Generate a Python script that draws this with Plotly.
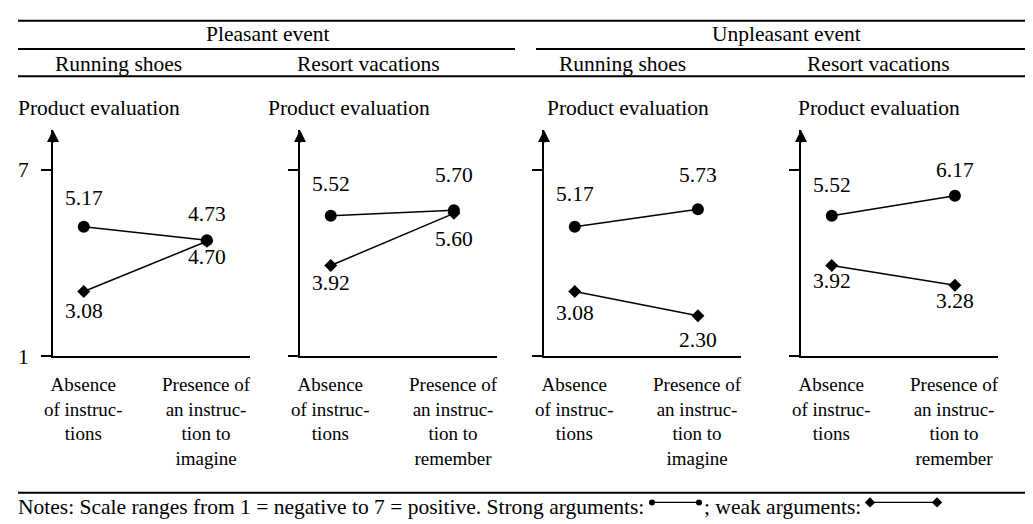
import plotly.graph_objects as go

# ---------------- data ----------------
events = ["Pleasant event", "Unpleasant event"]
products = ["Running shoes", "Resort vacations", "Running shoes", "Resort vacations"]
conditions = [
    ["Absence of instructions", "Presence of an instruction to imagine"],
    ["Absence of instructions", "Presence of an instruction to remember"],
    ["Absence of instructions", "Presence of an instruction to imagine"],
    ["Absence of instructions", "Presence of an instruction to remember"],
]
condition_labels = [
    ["Absence<br>of instruc-<br>tions", "Presence of<br>an instruc-<br>tion to<br>imagine"],
    ["Absence<br>of instruc-<br>tions", "Presence of<br>an instruc-<br>tion to<br>remember"],
    ["Absence<br>of instruc-<br>tions", "Presence of<br>an instruc-<br>tion to<br>imagine"],
    ["Absence<br>of instruc-<br>tions", "Presence of<br>an instruc-<br>tion to<br>remember"],
]
strong_args = [[5.17, 4.73], [5.52, 5.70], [5.17, 5.73], [5.52, 6.17]]
weak_args = [[3.08, 4.70], [3.92, 5.60], [3.08, 2.30], [3.92, 3.28]]
y_ticks = [1, 7]
y_axis_title = "Product evaluation"
notes_text = "Notes: Scale ranges from 1 = negative to 7 = positive. Strong arguments:"
notes_text2 = "; weak arguments:"

# ---------------- layout constants (pixels) ----------------
W, H = 1033, 524
FONT = "Liberation Serif"
FS = 21.5
CAT_FS = 19
axis_x_px = [45, 292, 536, 793]
axis_len_px = 197
y_bottom_px, y_top_px = 357, 125
px_per_unit = (357 - 166) / 6.0
y_max = 1 + (y_bottom_px - y_top_px) / px_per_unit
title_x_px = [8, 258, 537, 788]
product_cx_px = [110, 360, 614, 870]
event_cx_px = [260, 778]
strong_dy = [[29, 26], [32, 35], [33, 34], [31, 26]]
weak_dy = [[-19, -16], [-18, -26], [-21, -24], [-16, -16]]


def px(x):
    return x / W


def py(y):
    return 1 - y / H


fig = go.Figure()
annotations = []
shapes = []

for i in range(4):
    n = i + 1
    xa = "x" if n == 1 else f"x{n}"
    ya = "y" if n == 1 else f"y{n}"
    cats = conditions[i]
    fig.add_trace(go.Scatter(
        x=cats, y=strong_args[i], xaxis=xa, yaxis=ya, mode="lines+markers",
        line=dict(color="black", width=1.5),
        marker=dict(symbol="circle", size=12, color="black"),
        showlegend=False, cliponaxis=False, hoverinfo="skip"))
    fig.add_trace(go.Scatter(
        x=cats, y=weak_args[i], xaxis=xa, yaxis=ya, mode="lines+markers",
        line=dict(color="black", width=1.5),
        marker=dict(symbol="diamond", size=10, color="black"),
        showlegend=False, cliponaxis=False, hoverinfo="skip"))

    x0 = px(axis_x_px[i])
    x1 = px(axis_x_px[i] + axis_len_px)
    fig.update_layout(**{
        ("xaxis" if n == 1 else f"xaxis{n}"): dict(
            domain=[x0, x1], anchor=ya, type="category",
            categoryorder="array", categoryarray=cats,
            range=[-0.25, 1.35], showline=True, linecolor="black", linewidth=2,
            showticklabels=False, ticks="", showgrid=False, zeroline=False,
            fixedrange=True),
        ("yaxis" if n == 1 else f"yaxis{n}"): dict(
            domain=[py(y_bottom_px), py(y_top_px)], anchor=xa,
            range=[1, y_max], showline=True, linecolor="black", linewidth=2,
            tickvals=y_ticks, ticktext=[str(t) for t in y_ticks],
            showticklabels=(n == 1), ticks="outside", ticklen=10, tickwidth=1.5,
            tickcolor="black", ticklabelstandoff=8,
            tickfont=dict(family=FONT, size=FS, color="black"),
            showgrid=False, zeroline=False, fixedrange=True),
    })

    annotations.append(dict(
        xref=f"{xa} domain", yref=f"{ya} domain", x=0, y=1, ax=0, ay=14,
        text="", showarrow=True, arrowhead=2, arrowwidth=2, arrowsize=1.2,
        arrowcolor="black"))

    for j in range(2):
        annotations.append(dict(
            xref=xa, yref=ya, x=cats[j], y=strong_args[i][j],
            text=f"{strong_args[i][j]:.2f}", showarrow=False,
            yshift=strong_dy[i][j], font=dict(family=FONT, size=FS, color="black")))
        annotations.append(dict(
            xref=xa, yref=ya, x=cats[j], y=weak_args[i][j],
            text=f"{weak_args[i][j]:.2f}", showarrow=False,
            yshift=weak_dy[i][j], font=dict(family=FONT, size=FS, color="black")))

    for j in range(2):
        annotations.append(dict(
            xref=xa, yref="paper", x=cats[j], y=py(373),
            text=condition_labels[i][j], showarrow=False, xanchor="center",
            yanchor="top", align="center",
            font=dict(family=FONT, size=CAT_FS, color="black")))

    annotations.append(dict(
        xref="paper", yref="paper", x=px(title_x_px[i]), y=py(103),
        text=y_axis_title, showarrow=False, xanchor="left", yanchor="middle",
        font=dict(family=FONT, size=FS, color="black")))

    annotations.append(dict(
        xref="paper", yref="paper", x=px(product_cx_px[i]), y=py(57),
        text=products[i], showarrow=False, xanchor="center", yanchor="middle",
        font=dict(family=FONT, size=FS, color="black")))

for e in range(2):
    annotations.append(dict(
        xref="paper", yref="paper", x=px(event_cx_px[e]), y=py(27),
        text=events[e], showarrow=False, xanchor="center", yanchor="middle",
        font=dict(family=FONT, size=FS, color="black")))


def hline(xa_px, xb_px, y_px, w=2):
    shapes.append(dict(type="line", xref="paper", yref="paper",
                       x0=px(xa_px), x1=px(xb_px), y0=py(y_px), y1=py(y_px),
                       line=dict(color="black", width=w)))


hline(10, 1033, 13)
hline(10, 507, 42)
hline(528, 1033, 42)
hline(10, 1033, 70)
hline(10, 1033, 497)

annotations.append(dict(
    xref="paper", yref="paper", x=px(8), y=py(512), text=notes_text,
    showarrow=False, xanchor="left", yanchor="middle",
    font=dict(family=FONT, size=FS, color="black")))
annotations.append(dict(
    xref="paper", yref="paper", x=px(694), y=py(512), text=notes_text2,
    showarrow=False, xanchor="left", yanchor="middle",
    font=dict(family=FONT, size=FS, color="black")))

fig.add_trace(go.Scatter(
    x=[644, 691], y=[507, 507], xaxis="x5", yaxis="y5", mode="lines+markers",
    line=dict(color="black", width=1.2), marker=dict(symbol="circle", size=6, color="black"),
    showlegend=False, cliponaxis=False, hoverinfo="skip"))
fig.add_trace(go.Scatter(
    x=[862, 929], y=[507, 507], xaxis="x5", yaxis="y5", mode="lines+markers",
    line=dict(color="black", width=1.2), marker=dict(symbol="diamond", size=8, color="black"),
    showlegend=False, cliponaxis=False, hoverinfo="skip"))

fig.update_layout(
    xaxis5=dict(domain=[0, 1], range=[0, W], visible=False, anchor="y5", fixedrange=True),
    yaxis5=dict(domain=[0, 1], range=[H, 0], visible=False, anchor="x5", fixedrange=True),
    width=W, height=H, margin=dict(l=0, r=0, t=0, b=0),
    paper_bgcolor="white", plot_bgcolor="rgba(0,0,0,0)",
    annotations=annotations, shapes=shapes, showlegend=False,
    font=dict(family=FONT, size=FS, color="black"),
)

fig.write_html("out.html")
